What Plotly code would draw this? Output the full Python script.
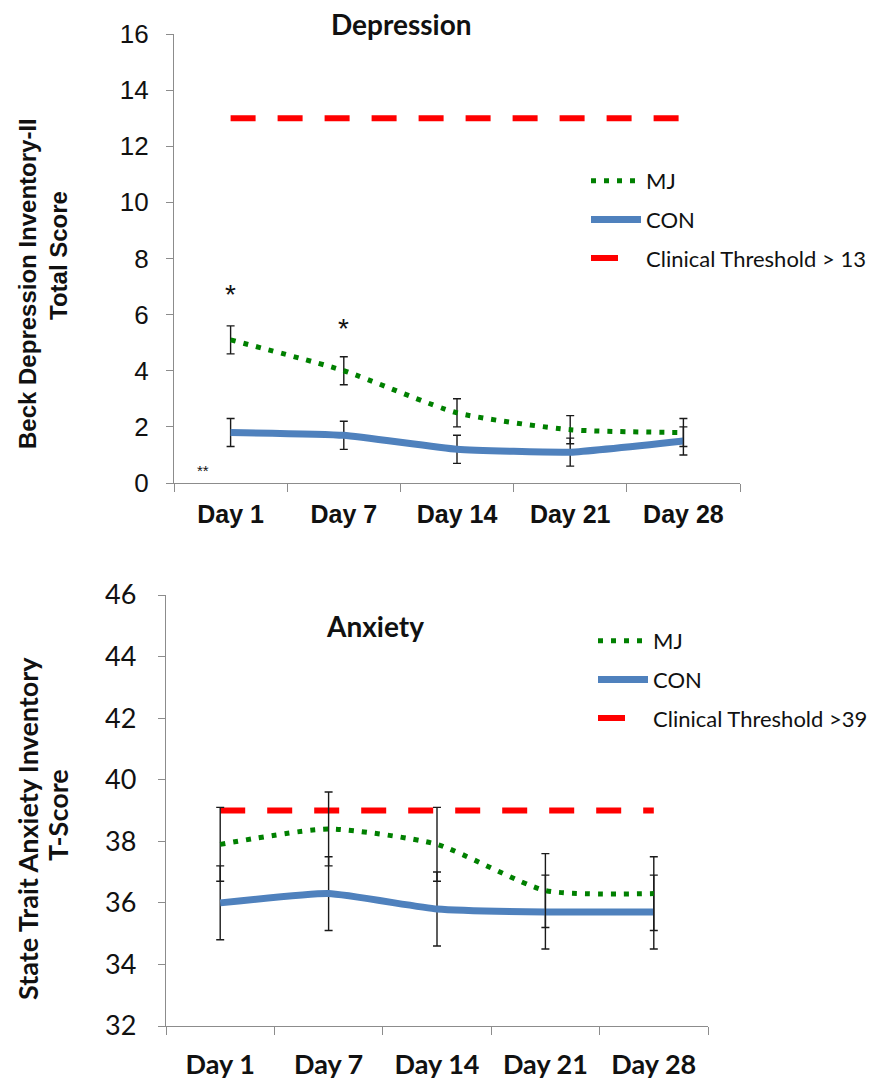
import plotly.graph_objects as go

days = ["Day 1", "Day 7", "Day 14", "Day 21", "Day 28"]

dep_mj = [5.1, 4.0, 2.5, 1.9, 1.8]
dep_mj_err = [0.5, 0.5, 0.5, 0.5, 0.5]
dep_con = [1.8, 1.7, 1.2, 1.1, 1.5]
dep_con_err = [0.5, 0.5, 0.5, 0.5, 0.5]
dep_thr = [13, 13, 13, 13, 13]

anx_mj = [37.9, 38.4, 37.9, 36.4, 36.3]
anx_mj_err = [1.2, 1.2, 1.2, 1.2, 1.2]
anx_con = [36.0, 36.3, 35.8, 35.7, 35.7]
anx_con_err = [1.2, 1.2, 1.2, 1.2, 1.2]
anx_thr = [39, 39, 39, 39, 39]

dep_yticks = [0, 2, 4, 6, 8, 10, 12, 14, 16]
anx_yticks = [32, 34, 36, 38, 40, 42, 44, 46]

# page is 894x1088; html body has an 8px margin, so the figure is 878x1072
OFF = 8
FW, FH = 878, 1072
GREEN = "#008000"
BLUE = "#4F81BD"
RED = "#FF0000"
AXC = "#8c8c8c"
TXT = "#111111"
CAL = "Lato, 'Open Sans', sans-serif"
ARI = "'Liberation Sans', Arial, sans-serif"


def px(x):
    return (x - OFF) / FW


def py(y):
    return (FH - (y - OFF)) / FH


fig = go.Figure()


def err(e):
    return dict(type="data", array=e, visible=True, color="#1a1a1a", thickness=1.4, width=4)


MJ_LINE = dict(color=GREEN, width=5, dash="5px,8px", shape="spline", smoothing=0.6)
CON_LINE = dict(color=BLUE, width=7, shape="spline", smoothing=0.4)
THR_LINE = dict(color=RED, width=6, dash="25px,22px")
THR_LEG = dict(color=RED, width=6, dash="27px,60px")

# Top: depression
fig.add_trace(go.Scatter(x=days, y=dep_thr, mode="lines", line=THR_LINE, showlegend=False,
                         xaxis="x", yaxis="y", hoverinfo="skip"))
fig.add_trace(go.Scatter(x=days, y=dep_con, mode="lines", name="CON", line=CON_LINE,
                         error_y=err(dep_con_err), xaxis="x", yaxis="y",
                         legend="legend", legendgroup="c1", legendrank=2))
fig.add_trace(go.Scatter(x=days, y=dep_mj, mode="lines", name="MJ", line=MJ_LINE,
                         error_y=err(dep_mj_err), xaxis="x", yaxis="y",
                         legend="legend", legendgroup="m1", legendrank=1))
fig.add_trace(go.Scatter(x=[None], y=[None], mode="lines", name="Clinical Threshold > 13",
                         line=THR_LEG, xaxis="x", yaxis="y",
                         legend="legend", legendgroup="t1", legendrank=3))

# Bottom: anxiety
fig.add_trace(go.Scatter(x=days, y=anx_thr, mode="lines", line=THR_LINE, showlegend=False,
                         xaxis="x2", yaxis="y2", hoverinfo="skip"))
fig.add_trace(go.Scatter(x=days, y=anx_con, mode="lines", name="CON", line=CON_LINE,
                         error_y=err(anx_con_err), xaxis="x2", yaxis="y2",
                         legend="legend2", legendgroup="c2", legendrank=2))
fig.add_trace(go.Scatter(x=days, y=anx_mj, mode="lines", name="MJ", line=MJ_LINE,
                         error_y=err(anx_mj_err), xaxis="x2", yaxis="y2",
                         legend="legend2", legendgroup="m2", legendrank=1))
fig.add_trace(go.Scatter(x=[None], y=[None], mode="lines", name="Clinical Threshold >39",
                         line=THR_LEG, xaxis="x2", yaxis="y2",
                         legend="legend2", legendgroup="t2", legendrank=3))

xcommon = dict(type="category", range=[-0.5, 4.5], showline=True, linecolor=AXC, linewidth=1.3,
               ticks="outside", tickson="boundaries", ticklen=8, tickcolor=AXC, tickwidth=1.3,
               showgrid=False, zeroline=False, fixedrange=True, automargin=False)
ycommon = dict(showline=True, linecolor=AXC, linewidth=1.3, ticks="outside", ticklen=7,
               tickcolor=AXC, tickwidth=1.3, showgrid=False, zeroline=False, fixedrange=True,
               automargin=False)

fig.update_layout(
    width=FW, height=FH, autosize=False,
    margin=dict(l=0, r=0, t=0, b=0, pad=0, autoexpand=False),
    paper_bgcolor="white", plot_bgcolor="white",
    xaxis=dict(xcommon, domain=[px(174), px(740)], anchor="y",
               tickfont=dict(family=ARI, size=25, color=TXT, weight="bold"),
               ticklabelstandoff=9),
    yaxis=dict(ycommon, domain=[py(483), py(34)], anchor="x", range=[0, 16],
               tickvals=dep_yticks, tickfont=dict(family=ARI, size=26, color=TXT),
               ticklabelstandoff=12),
    xaxis2=dict(xcommon, domain=[px(166), px(708)], anchor="y2",
                tickfont=dict(family=CAL, size=27, color=TXT, weight="bold"),
                ticklabelstandoff=14),
    yaxis2=dict(ycommon, domain=[py(1026), py(595)], anchor="x2", range=[32, 46],
                tickvals=anx_yticks, tickfont=dict(family=CAL, size=27, color=TXT),
                ticklabelstandoff=16),
    legend=dict(x=px(586), y=py(160), xanchor="left", yanchor="top",
                font=dict(family=CAL, size=22, color=TXT), bgcolor="rgba(0,0,0,0)",
                tracegroupgap=7, itemwidth=50),
    legend2=dict(x=px(593), y=py(620), xanchor="left", yanchor="top",
                 font=dict(family=CAL, size=22, color=TXT), bgcolor="rgba(0,0,0,0)",
                 tracegroupgap=7, itemwidth=50),
    showlegend=True,
)


def vtext(txt, x, y, fam, size):
    return dict(text="<b>%s</b>" % txt, x=px(x), y=py(y), xref="paper", yref="paper",
                textangle=-90, showarrow=False, borderpad=0,
                font=dict(family=fam, size=size, color=TXT), xanchor="center", yanchor="middle")


annots = [
    dict(text="<b>Depression</b>", x=px(401), y=py(24), xref="paper", yref="paper",
         showarrow=False, font=dict(family=CAL, size=28, color=TXT), xanchor="center", yanchor="middle"),
    dict(text="<b>Anxiety</b>", x=px(375), y=py(626), xref="paper", yref="paper",
         showarrow=False, font=dict(family=CAL, size=28, color=TXT), xanchor="center", yanchor="middle"),
    vtext("Beck Depression Inventory-II", 27, 284, ARI, 24),
    vtext("Total Score", 58, 256, ARI, 24),
    vtext("State Trait Anxiety Inventory", 27, 829, CAL, 27),
    vtext("T-Score", 57, 815, CAL, 27),
    dict(text="*", x=0, y=6.7, xref="x", yref="y", showarrow=False,
         font=dict(family=ARI, size=28, color=TXT), xanchor="center", yanchor="middle"),
    dict(text="*", x=1, y=5.5, xref="x", yref="y", showarrow=False,
         font=dict(family=ARI, size=28, color=TXT), xanchor="center", yanchor="middle"),
    dict(text="**", x=-0.24, y=0.45, xref="x", yref="y", showarrow=False,
         font=dict(family=ARI, size=15, color=TXT), xanchor="center", yanchor="middle"),
]
fig.update_layout(annotations=annots)

fig.write_html("out.html")
